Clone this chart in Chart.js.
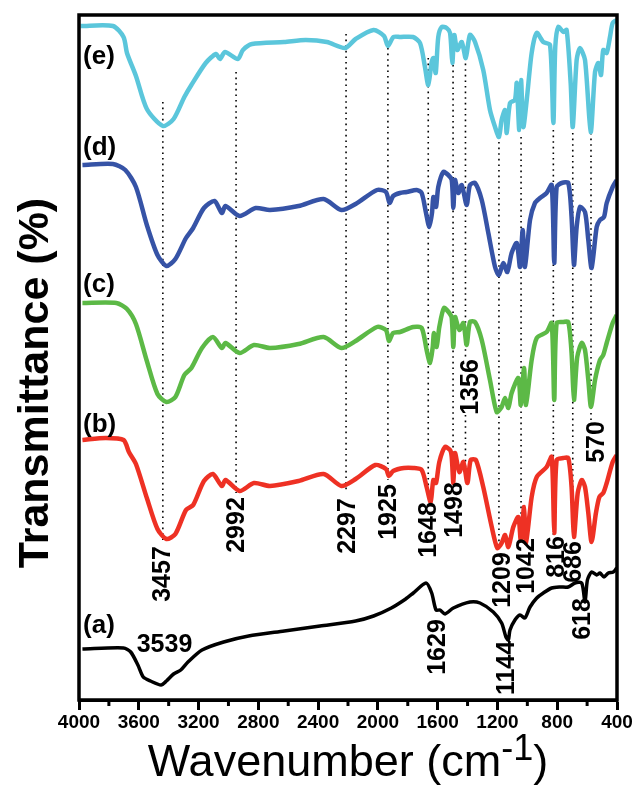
<!DOCTYPE html>
<html>
<head>
<meta charset="UTF-8">
<title>FTIR spectra</title>
<script src="https://cdn.jsdelivr.net/npm/chart.js@4.4.0/dist/chart.umd.min.js"></script>
<style>
  html, body { margin: 0; padding: 0; background: #fff; }
  #wrap { width: 636px; height: 785px; }
</style>
</head>
<body>
<div id="wrap"><canvas id="chart"></canvas></div>
<script>
  // wavenumbers (cm-1) and transmittance (arbitrary, stacked) for each sample
  const wnE = [3990,3773,3702,3679,3619,3546,3439,3367,3295,3248,3152,3083,3057,3023,2937,2903,2842,2628,2483,2341,2220,2149,2029,1959,1933,1896,1852,1765,1718,1685,1663,1640,1629,1613,1596,1573,1540,1517,1502,1489,1469,1439,1412,1384,1350,1295,1250,1216,1190,1172,1149,1138,1116,1083,1071,1054,1042,1027,1004,971,937,893,848,826,813,793,759,737,710,696,670,648,614,576,547,525,507,492,469,447,429,402];
  const tE  = [674,674,663,647,624,591,574,581,603,615,637,646,641,648,641,650,656,658,660,658,652,661,670,664,654,663,663,663,657,633,615,638,642,627,663,673,672,667,637,665,650,658,642,665,658,630,590,573,563,580,590,567,597,600,617,570,620,573,600,647,667,658,655,577,653,673,668,670,617,573,640,652,640,568,628,637,625,650,647,663,677,680];

  const wnD = [3977,3773,3690,3619,3546,3475,3415,3355,3284,3236,3164,3093,3044,3020,2925,2818,2722,2531,2363,2244,2149,2006,1946,1922,1898,1852,1807,1740,1707,1678,1656,1638,1629,1611,1596,1562,1529,1506,1495,1484,1462,1439,1406,1384,1350,1305,1261,1216,1190,1161,1134,1105,1071,1049,1031,1016,982,949,915,871,837,820,804,770,726,704,688,670,648,614,592,570,536,514,487,469,429,402];
  const tD  = [535,536,530,513,475,445,434,441,462,472,492,499,487,494,484,492,490,494,501,490,496,510,508,497,504,507,508,510,507,487,473,487,503,493,513,528,525,520,492,520,507,515,495,515,517,500,467,433,425,437,428,447,457,433,470,433,480,497,502,507,515,437,513,517,517,483,435,473,493,488,460,432,473,480,483,497,513,520];

  const wnC = [3977,3750,3679,3619,3546,3475,3415,3355,3295,3248,3177,3104,3044,3020,2925,2829,2722,2531,2363,2244,2149,2006,1946,1926,1898,1852,1763,1707,1674,1651,1633,1625,1607,1589,1558,1522,1506,1495,1484,1455,1428,1406,1384,1350,1305,1250,1205,1172,1149,1127,1105,1060,1044,1022,1009,971,937,871,837,820,804,759,726,704,688,666,636,614,592,574,547,514,492,469,429,402];
  const tC  = [397,397,391,376,339,306,298,303,325,332,352,363,352,357,347,355,352,356,363,352,359,373,370,359,367,368,373,372,350,337,353,367,353,373,392,387,382,353,383,370,377,355,378,378,360,320,288,293,302,292,307,322,295,332,295,340,362,368,377,300,377,378,378,347,300,343,357,350,320,293,320,340,345,357,377,385];

  const wnB = [3977,3821,3702,3666,3619,3546,3475,3415,3355,3284,3236,3164,3104,3044,3020,2925,2829,2722,2531,2363,2244,2149,2017,1946,1926,1898,1826,1763,1707,1674,1647,1629,1611,1589,1551,1517,1506,1495,1484,1455,1428,1401,1379,1344,1295,1238,1201,1172,1149,1127,1094,1060,1044,1022,1009,971,937,871,837,820,804,759,726,704,688,663,636,614,592,570,541,518,492,469,429,402];
  const tB  = [260,262,260,248,236,202,171,161,166,190,195,219,226,214,220,209,217,214,219,226,214,221,235,231,224,229,232,232,230,213,198,220,217,238,253,250,243,217,247,228,238,217,240,240,213,173,152,157,165,153,173,183,160,193,157,203,223,233,243,167,240,242,242,213,163,207,220,213,187,158,187,203,207,217,238,245];

  const wnA = [3977,3702,3654,3606,3570,3522,3451,3415,3367,3319,3271,3177,3032,2865,2626,2387,2149,2029,1910,1814,1763,1678,1640,1611,1584,1551,1495,1384,1317,1228,1172,1143,1127,1116,1083,1049,1016,982,937,893,837,782,726,681,636,614,598,570,536,514,487,458,425,402];
  const tA  = [51,52,48,35,23,19,15,19,26,30,38,50,58,64,69,74,79,84,92,101,107,117,107,90,90,86,92,98,97,88,77,63,60,70,80,85,82,93,102,107,112,113,113,117,117,98,120,128,125,127,123,127,128,132];

  const sampleNames = ['(e)', '(d)', '(c)', '(b)', '(a)'];
  const sampleNameY = [643, 552, 415, 275, 74];
  const sampleColors = ['#5bc6db', '#3653a6', '#5cb946', '#ee3124', '#000000'];

  // dotted guide lines: position and vertical extent
  const guideX      = [3439, 2949, 2213, 1933, 1663, 1497, 1414, 1414, 1190, 1042, 826, 696, 574];
  const guideTop    = [598, 628, 666, 652, 642, 635, 642, 285, 558, 563, 570, 567, 567];
  const guideBottom = [160, 207, 207, 220, 200, 218, 340, 220, 152, 164, 165, 163, 280];

  // peak labels
  const peakText = ['3457','2992','2297','1925','1648','1498','1356','1209','1042','816','686','570','3539','1629','1144','618'];
  const peakX    = [3438, 2943, 2197, 1922, 1658, 1484, 1377, 1163, 1002, 801, 688, 534, 3428, 1598, 1136, 628];
  const peakY    = [126, 175, 174, 188, 170, 190, 313, 120, 134, 143, 138, 258, 55, 53, 32, 81];
  const peakRot  = [1,1,1,1,1,1,1,1,1,1,1,1,0,1,1,1];

  const xTicksMinor = [3800, 3400, 3000, 2600, 2200, 1800, 1400, 1000, 600];

  const FONT = "'Liberation Sans', Arial, sans-serif";

  function pts(xs, ys) {
    return xs.map((x, i) => ({ x: x, y: ys[i] }));
  }

  const series = [[wnE, tE], [wnD, tD], [wnC, tC], [wnB, tB], [wnA, tA]];

  const decorations = {
    id: 'decorations',
    beforeDatasetsDraw(chart) {
      const ctx = chart.ctx, xs = chart.scales.x, ys = chart.scales.y;
      ctx.save();
      ctx.strokeStyle = '#000';
      ctx.lineWidth = 1.6;
      ctx.setLineDash([1.6, 4]);
      for (let i = 0; i < guideX.length; i++) {
        const px = xs.getPixelForValue(guideX[i]);
        ctx.beginPath();
        ctx.moveTo(px, ys.getPixelForValue(guideTop[i]));
        ctx.lineTo(px, ys.getPixelForValue(guideBottom[i]));
        ctx.stroke();
      }
      ctx.restore();
    },
    afterDatasetsDraw(chart) {
      const ctx = chart.ctx, xs = chart.scales.x, ys = chart.scales.y;
      ctx.save();
      ctx.fillStyle = '#000';
      // sample names
      ctx.font = 'bold 26px ' + FONT;
      ctx.textAlign = 'left';
      ctx.textBaseline = 'middle';
      sampleNames.forEach((s, i) => {
        ctx.fillText(s, xs.getPixelForValue(3973), ys.getPixelForValue(sampleNameY[i]));
      });
      // peak labels
      ctx.font = 'bold 25px ' + FONT;
      ctx.textAlign = 'center';
      peakText.forEach((s, i) => {
        const px = xs.getPixelForValue(peakX[i]);
        const py = ys.getPixelForValue(peakY[i]);
        ctx.save();
        ctx.translate(px, py);
        if (peakRot[i]) ctx.rotate(-Math.PI / 2);
        ctx.fillText(s, 0, 0);
        ctx.restore();
      });
      ctx.restore();
    },
    afterDraw(chart) {
      const ctx = chart.ctx, a = chart.chartArea, xs = chart.scales.x;
      ctx.save();
      // frame
      ctx.strokeStyle = '#000';
      ctx.lineWidth = 3.5;
      ctx.strokeRect(a.left, a.top, a.right - a.left, a.bottom - a.top);
      // minor ticks
      ctx.lineWidth = 3;
      xTicksMinor.forEach(v => {
        const px = xs.getPixelForValue(v);
        ctx.beginPath();
        ctx.moveTo(px, a.bottom);
        ctx.lineTo(px, a.bottom + 6);
        ctx.stroke();
      });
      // x title with superscript
      ctx.fillStyle = '#000';
      ctx.textBaseline = 'alphabetic';
      ctx.textAlign = 'left';
      const main = 'Wavenumber (cm', sup = '-1', close = ')';
      ctx.font = '45px ' + FONT;
      const w1 = ctx.measureText(main).width, w3 = ctx.measureText(close).width;
      ctx.font = '36px ' + FONT;
      const w2 = ctx.measureText(sup).width;
      let x0 = (a.left + a.right) / 2 - (w1 + w2 + w3) / 2;
      const base = 776;
      ctx.font = '45px ' + FONT;
      ctx.fillText(main, x0, base);
      ctx.font = '36px ' + FONT;
      ctx.fillText(sup, x0 + w1, base - 16);
      ctx.font = '45px ' + FONT;
      ctx.fillText(close, x0 + w1 + w2, base);
      // y title
      ctx.font = 'bold 43px ' + FONT;
      ctx.textAlign = 'center';
      ctx.textBaseline = 'middle';
      ctx.translate(36, 383);
      ctx.rotate(-Math.PI / 2);
      ctx.fillText('Transmittance (%)', 0, 0);
      ctx.restore();
    }
  };

  new Chart(document.getElementById('chart'), {
    type: 'line',
    data: {
      datasets: series.map((s, i) => ({
        label: sampleNames[i],
        data: pts(s[0], s[1]),
        borderColor: sampleColors[i],
        borderWidth: i === 4 ? 3.5 : 4.5,
        pointRadius: 0,
        tension: 0.25,
        fill: false
      }))
    },
    options: {
      responsive: true,
      maintainAspectRatio: false,
      animation: false,
      layout: { padding: { left: 79, right: 19, top: 15, bottom: 0 } },
      plugins: { legend: { display: false }, tooltip: { enabled: false } },
      scales: {
        x: {
          type: 'linear',
          reverse: true,
          min: 400,
          max: 4000,
          ticks: {
            stepSize: 400,
            autoSkip: false,
            maxRotation: 0,
            padding: 1,
            color: '#000',
            font: { family: FONT, weight: 'bold', size: 19 },
            callback: v => String(v)
          },
          grid: { drawOnChartArea: false, drawTicks: true, tickLength: 10, tickWidth: 3, tickColor: '#000' },
          border: { display: true, width: 3, color: '#000' },
          afterFit(scale) { scale.height = 85; }
        },
        y: { display: false, min: 0, max: 685 }
      }
    },
    plugins: [decorations]
  });
</script>
</body>
</html>
